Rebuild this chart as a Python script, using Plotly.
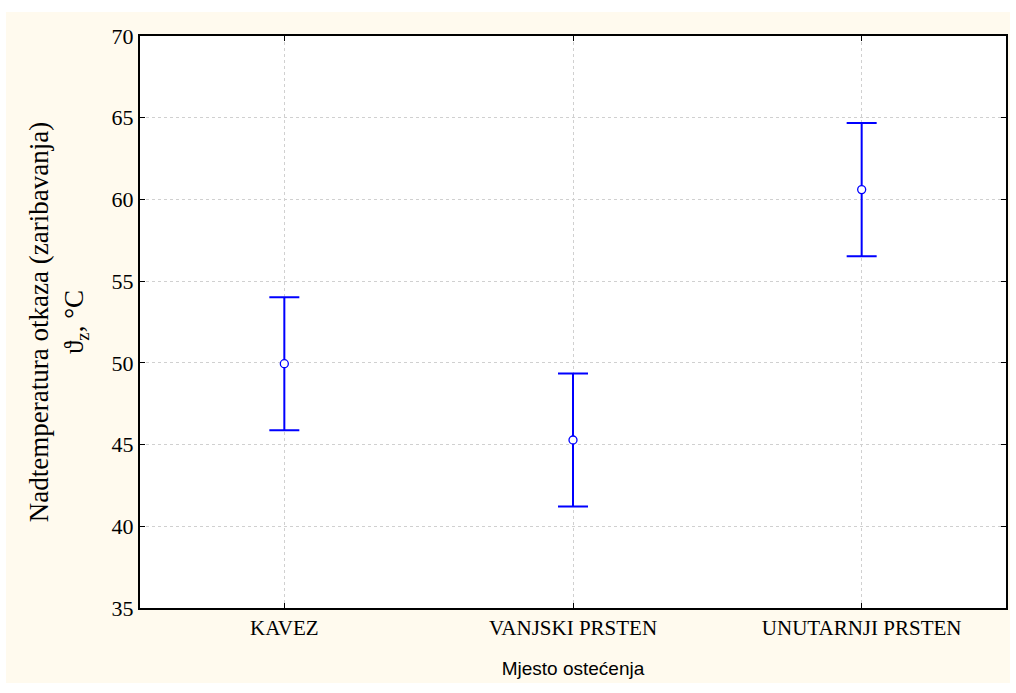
import plotly.graph_objects as go

categories = ["KAVEZ", "VANJSKI PRSTEN", "UNUTARNJI PRSTEN"]
means = [49.95, 45.28, 60.6]
errors = [4.07, 4.07, 4.07]
y_ticks = [35, 40, 45, 50, 55, 60, 65, 70]

W, H = 1016, 693
L, R, T, B = 140, 10, 36, 85
pw, ph = W - L - R, H - T - B


def px(x):
    return (x - L) / pw


def py(y):
    return (H - B - y) / ph


white_strips = [
    (0, 6, 0, H), (1010, W, 0, H), (0, W, 0, 12), (0, W, 683, H),
]
shapes = [dict(type="rect", xref="paper", yref="paper", layer="above",
               x0=px(a), x1=px(b), y0=py(d), y1=py(c),
               fillcolor="white", line=dict(width=0))
          for a, b, c, d in white_strips]

fig = go.Figure()
fig.add_trace(go.Scatter(
    x=categories, y=means, mode="markers",
    marker=dict(symbol="circle", size=8, color="white",
                line=dict(color="#0000FF", width=1.3)),
    error_y=dict(type="data", array=errors, visible=True,
                 color="#0000FF", thickness=2, width=15),
    showlegend=False,
))

serif = "Liberation Serif, Times New Roman, serif"
fig.update_layout(
    width=W, height=H,
    paper_bgcolor="#FFFAEE", plot_bgcolor="white",
    margin=dict(l=L, r=R, t=T, b=B, autoexpand=False),
    font=dict(family=serif, size=20, color="black"),
    shapes=shapes,
    xaxis=dict(
        range=[-0.5, 2.5], showline=True, linecolor="black", linewidth=2,
        mirror="ticks", ticks="inside", ticklen=5, tickcolor="black",
        showgrid=True, gridcolor="#D0D0D0", griddash="dot", gridwidth=1,
        tickfont=dict(family=serif, size=21),
        automargin=False,
        title=dict(text="Mjesto ostećenja",
                   font=dict(family="Liberation Sans Narrow, Liberation Sans, Arial", size=19),
                   standoff=22),
    ),
    yaxis=dict(
        range=[35, 70], tickvals=y_ticks, showline=True, linecolor="black", linewidth=2,
        mirror="ticks", ticks="inside", ticklen=5, tickcolor="black",
        showgrid=True, gridcolor="#D0D0D0", griddash="dot", gridwidth=1,
        zeroline=False, automargin=False,
        tickfont=dict(family=serif, size=22),
        title=dict(text="Nadtemperatura otkaza (zaribavanja)<br>ϑ<sub>z</sub>, °C",
                   font=dict(family=serif, size=27),
                   standoff=20),
    ),
)

fig.write_html("out.html", config={"displayModeBar": False},
               post_script="document.body.style.margin='0';document.body.style.padding='0';")
